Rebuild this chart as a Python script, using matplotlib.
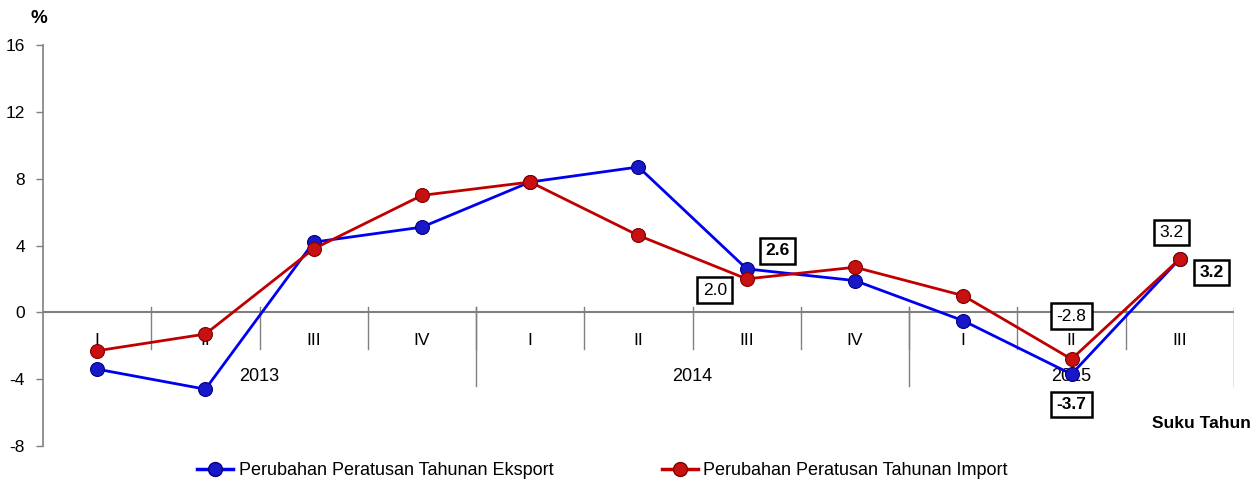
import matplotlib
matplotlib.use("Agg")
import matplotlib.pyplot as plt
from matplotlib.lines import Line2D

plt.rcParams['font.family'] = ['Liberation Sans', 'DejaVu Sans']
plt.rcParams['axes.unicode_minus'] = False

quarters = ["I", "II", "III", "IV", "I", "II", "III", "IV", "I", "II", "III"]
years = ["2013", "2014", "2015"]
year_spans = [(0, 4), (4, 8), (8, 11)]
eksport = [-3.4, -4.6, 4.2, 5.1, 7.8, 8.7, 2.6, 1.9, -0.5, -3.7, 3.2]
import_ = [-2.3, -1.3, 3.8, 7.0, 7.8, 4.6, 2.0, 2.7, 1.0, -2.8, 3.2]
label_eksport = "Perubahan Peratusan Tahunan Eksport"
label_import = "Perubahan Peratusan Tahunan Import"
# indices of annotated points with offsets (points)
eks_ann = {6: (22, 13), 9: (0, -22), 10: (23, -10)}
imp_ann = {6: (-23, -8), 9: (0, 31), 10: (-6, 19)}

fig = plt.figure(figsize=(12.6, 4.84), dpi=100)
ax = fig.add_axes([0.0341, 0.0785, 0.9452, 0.8285])
x = list(range(len(quarters)))

blue = "#0000f0"
red = "#c00000"
ax.plot(x, eksport, color=blue, lw=2, marker='o', ms=10,
        mfc="#1818c8", mec="#000080", mew=0.8, zorder=4)
ax.plot(x, import_, color=red, lw=2, marker='o', ms=10,
        mfc="#c81010", mec="#800000", mew=0.8, zorder=5)

ax.set_xlim(-0.5, len(quarters) - 0.5)
ax.set_ylim(-8, 16)
ax.set_yticks([-8, -4, 0, 4, 8, 12, 16])
ax.tick_params(axis='y', length=5, width=1, color='#808080', pad=8, labelsize=12.5)
ax.set_xticks([])
for s in ['top', 'right', 'bottom']:
    ax.spines[s].set_visible(False)
ax.spines['left'].set_color('#808080')
ax.spines['left'].set_linewidth(1.2)
ax.axhline(0, color='#808080', lw=1.5, zorder=1)

# quarter separators
for i in range(1, len(quarters)):
    ax.plot([i - 0.5, i - 0.5], [0.3, -2.2], color='#808080', lw=1, zorder=1)
for (a, b) in year_spans[1:]:
    ax.plot([a - 0.5, a - 0.5], [0.3, -4.4], color='#808080', lw=1, zorder=1)
ax.plot([len(quarters) - 0.5] * 2, [0.3, -4.4], color='#808080', lw=1, zorder=1)

for i, q in enumerate(quarters):
    ax.annotate(q, (i, 0), xytext=(0, -20), textcoords='offset points',
                ha='center', va='center', fontsize=12.5, zorder=2)
for yr, (a, b) in zip(years, year_spans):
    ax.annotate(yr, ((a + b - 1) / 2, 0), xytext=(0, -46), textcoords='offset points',
                ha='center', va='center', fontsize=13, zorder=3)

box = dict(boxstyle='square,pad=0.3', fc='white', ec='black', lw=1.8)
for i, off in eks_ann.items():
    ax.annotate(f"{eksport[i]:.1f}", (i, eksport[i]), xytext=off, textcoords='offset points',
                ha='center', va='center', fontsize=12.5, fontweight='bold', bbox=box, zorder=6)
for i, off in imp_ann.items():
    ax.annotate(f"{import_[i]:.1f}", (i, import_[i]), xytext=off, textcoords='offset points',
                ha='center', va='center', fontsize=12.5, bbox=box, zorder=6)

fig.text(0.031, 0.962, "%", ha='center', va='center', fontsize=13.5, fontweight='bold')
fig.text(0.993, 0.124, "Suku Tahun", ha='right', va='center', fontsize=12.5, fontweight='bold')

h1 = Line2D([], [], color=blue, lw=2.5, marker='o', ms=10, mfc="#1818c8", mec="#000080")
h2 = Line2D([], [], color=red, lw=2.5, marker='o', ms=10, mfc="#c81010", mec="#800000")
fig.legend([h1, h2], [label_eksport, label_import], loc='center', ncol=2,
           bbox_to_anchor=(0.478, 0.027), frameon=False, fontsize=13,
           handlelength=2.0, handletextpad=0.3, columnspacing=6.0)

fig.savefig("out.png", dpi=100)
